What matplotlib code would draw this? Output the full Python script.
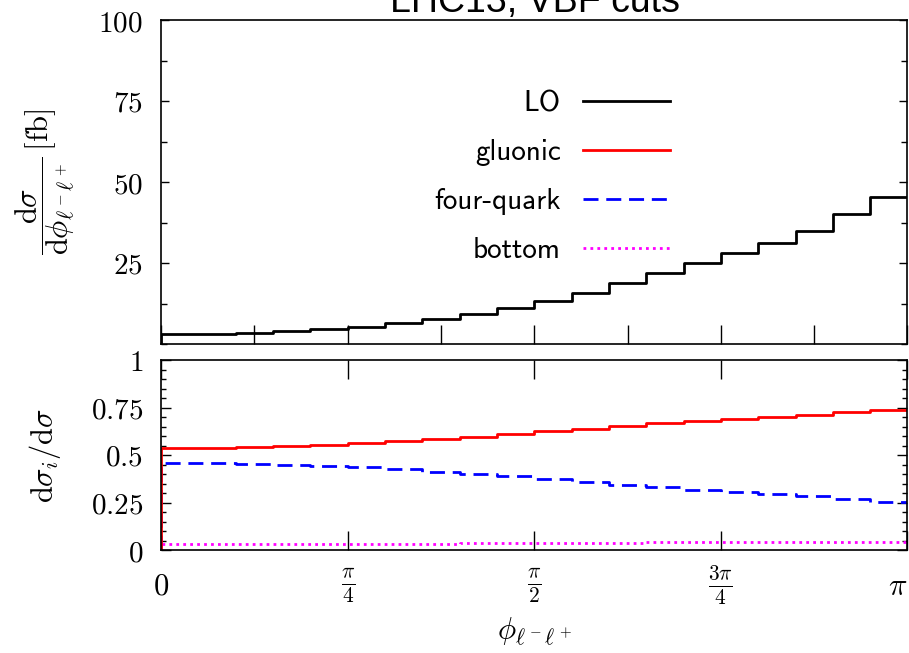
import matplotlib.pyplot as plt
import numpy as np
from matplotlib.lines import Line2D
from matplotlib.ticker import MultipleLocator

plt.rcParams['mathtext.fontset'] = 'cm'
plt.rcParams['axes.linewidth'] = 1.2

# 20 equal bins in phi between 0 and pi
edges = np.linspace(0, np.pi, 21)

lo = [3.0, 3.2, 3.5, 3.9, 4.5, 5.3, 6.4, 7.7, 9.3, 11.2,
      13.2, 15.8, 18.9, 21.8, 24.9, 28.0, 31.1, 35.0, 40.2, 45.3]
gluonic = [0.537, 0.537, 0.542, 0.548, 0.555, 0.562, 0.572, 0.585, 0.597, 0.611,
           0.625, 0.639, 0.653, 0.667, 0.681, 0.690, 0.701, 0.713, 0.727, 0.738]
fourquark = [0.458, 0.458, 0.454, 0.449, 0.444, 0.438, 0.428, 0.410, 0.398, 0.387,
             0.373, 0.357, 0.343, 0.333, 0.317, 0.305, 0.294, 0.283, 0.269, 0.255]
bottom = [0.031, 0.031, 0.031, 0.032, 0.032, 0.033, 0.033, 0.034, 0.035, 0.036,
          0.037, 0.038, 0.039, 0.040, 0.041, 0.042, 0.042, 0.043, 0.043, 0.044]

labels = ["LO", "gluonic", "four-quark", "bottom"]
colors = ["black", "red", "blue", "magenta"]
styles = ["-", "-", (0, (5.4, 2.8)), (0, (1, 1.5))]

ytop_ticks = [25, 50, 75, 100]
ybot_ticks = [0, 0.25, 0.5, 0.75, 1]
ybot_labels = [r"$0$", r"$0.25$", r"$0.5$", r"$0.75$", r"$1$"]
x_ticks = [0, np.pi/4, np.pi/2, 3*np.pi/4, np.pi]
x_labels = [r"$0$", r"$\frac{\pi}{4}$", r"$\frac{\pi}{2}$", r"$\frac{3\pi}{4}$", r"$\pi$"]

W, H = 909, 653
fig = plt.figure(figsize=(W/100, H/100), dpi=100)
ax = fig.add_axes([161/W, 1-344/H, 746.5/W, 324/H])
ax2 = fig.add_axes([161/W, 1-550/H, 746.5/W, 190/H])


def hist(a, vals, **kw):
    xs = np.r_[edges[0], edges]
    ys = np.r_[0, vals, vals[-1]]
    a.step(xs, ys, where='post', lw=2, **kw)


hist(ax, lo, color=colors[0], ls=styles[0])
hist(ax2, bottom, color=colors[3], ls=styles[3])
hist(ax2, fourquark, color=colors[2], ls=styles[2])
hist(ax2, gluonic, color=colors[1], ls=styles[1])

# top panel
ax.set_xlim(0, np.pi)
ax.set_ylim(0, 100)
ax.set_xticks(np.arange(9)*np.pi/8)
ax.tick_params(axis='x', direction='in', length=14, width=1, top=False, labelbottom=False)
ax.set_yticks(ytop_ticks, [f"${v}$" for v in ytop_ticks])
ax.yaxis.set_minor_locator(MultipleLocator(12.5))
ax.tick_params(axis='y', which='both', direction='in', left=True, right=True, width=1)
ax.tick_params(axis='y', which='major', length=6, labelsize=21, pad=13)
ax.tick_params(axis='y', which='minor', length=4)
ax.set_ylabel(r"$\dfrac{\mathrm{d}\sigma}{\mathrm{d}\phi_{\ell^-\ell^+}}\,[\mathrm{fb}]$",
              fontsize=22, va='center')
ax.yaxis.set_label_coords(-0.155, 0.5)

# bottom panel
ax2.set_xlim(0, np.pi)
ax2.set_ylim(0, 1)
ax2.set_xticks(x_ticks, x_labels)
ax2.tick_params(axis='x', direction='in', length=14, width=1, top=True, bottom=True,
                labelsize=22, pad=26)
for t in ax2.get_xticklabels():
    t.set_va('center')
ax2.get_xticklabels()[-1].set_ha('right')
ax2.set_yticks(ybot_ticks, ybot_labels)
ax2.yaxis.set_minor_locator(MultipleLocator(0.05))
ax2.tick_params(axis='y', which='both', direction='in', left=True, right=True, width=1)
ax2.tick_params(axis='y', which='major', length=7, labelsize=21, pad=13)
ax2.tick_params(axis='y', which='minor', length=3.5)
ax2.set_ylabel(r"$\mathrm{d}\sigma_i/\mathrm{d}\sigma$", fontsize=22, va='center')
ax2.yaxis.set_label_coords(-0.155, 0.5)
ax2.set_xlabel(r"$\phi_{\ell^-\ell^+}$", fontsize=22, va='center')
ax2.xaxis.set_label_coords(0.5, -0.43)

handles = [Line2D([], [], color=c, ls=s, lw=2) for c, s in zip(colors, styles)]
ax.legend(handles, labels, loc='upper right', bbox_to_anchor=(670/W, 1-90/H),
          bbox_transform=fig.transFigure, frameon=False, markerfirst=False,
          handlelength=3.0, handletextpad=0.75, labelspacing=0.76,
          borderpad=0, borderaxespad=0, prop={'family': 'cmss10', 'size': 21})

fig.text(534.5/W, 1-12/H, "LHC13, VBF cuts", ha='center', va='baseline',
         fontsize=27, family='Liberation Sans')

fig.savefig('out.png', dpi=100)
